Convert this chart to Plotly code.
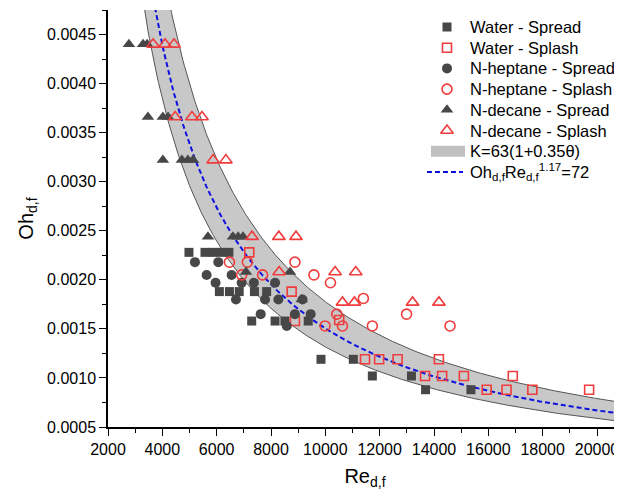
import numpy as np
import plotly.graph_objects as go

# ---------------- data ----------------
water_spread_re = [4980, 5570, 5860, 6160, 6450, 6100, 6470, 6830, 7390, 7840,
                   7290, 8150, 8510, 9370, 9840, 11030, 11730, 13170, 13690, 15360]
water_spread_oh = [0.00228, 0.00228, 0.00228, 0.00228, 0.00228,
                   0.00188, 0.00188, 0.00188, 0.00188, 0.00188,
                   0.00158, 0.00158, 0.00158, 0.00158,
                   0.00119, 0.00119, 0.00102, 0.00102, 0.00088, 0.00088]

water_splash_re = [7200, 8760, 8880, 10510, 11460, 11980, 12660, 14180,
                   13670, 14300, 15100, 16900, 15940, 16670, 17620, 19710]
water_splash_oh = [0.00228, 0.00188, 0.00158, 0.00159, 0.00119, 0.00119, 0.00119, 0.00119,
                   0.00102, 0.00102, 0.00102, 0.00102, 0.00088, 0.00088, 0.00088, 0.00088]

heptane_spread_re = [5200, 6060, 5630, 6550, 5960, 6920, 7370, 8150,
                     6710, 7780, 8270, 9160, 7620, 8880, 9460, 8580]
heptane_spread_oh = [0.00218, 0.00218, 0.00205, 0.00205, 0.00197, 0.00197, 0.00197, 0.00197,
                     0.00180, 0.00180, 0.00180, 0.00180, 0.00165, 0.00165, 0.00165, 0.00153]

heptane_splash_re = [6470, 7130, 8880, 6920, 7690, 9580, 10190, 11400,
                     10420, 12990, 9990, 10630, 11730, 14590]
heptane_splash_oh = [0.00218, 0.00218, 0.00218, 0.00205, 0.00205, 0.00205, 0.00197, 0.00181,
                     0.00165, 0.00165, 0.00153, 0.00153, 0.00153, 0.00153]

decane_spread_re = [2770, 3290, 3440, 3470, 4020, 4210, 4020, 4720, 4940, 5130,
                    5680, 6600, 6790, 6970, 7080, 8700, 9130]
decane_spread_oh = [0.00440, 0.00440, 0.00440, 0.00366, 0.00366, 0.00366,
                    0.00322, 0.00322, 0.00322, 0.00322,
                    0.00244, 0.00244, 0.00244, 0.00244, 0.00208, 0.00208, 0.00180]

decane_splash_re = [3660, 4100, 4430, 4470, 5090, 5460, 5870, 6340,
                    7300, 8290, 8920, 8300, 10360, 11120, 10630, 11070, 13210, 14180]
decane_splash_oh = [0.00440, 0.00440, 0.00440, 0.00366, 0.00366, 0.00366, 0.00322, 0.00322,
                    0.00244, 0.00244, 0.00244, 0.00208, 0.00208, 0.00208,
                    0.00177, 0.00177, 0.00177, 0.00177]

# correlation constants
K_low = 63.0
K_high = 63.0 * (1 + 0.35)
K_fit = 72.0
exponent = 1.17

x_ticks = [2000, 4000, 6000, 8000, 10000, 12000, 14000, 16000, 18000, 20000]
y_ticks = [0.0005, 0.0010, 0.0015, 0.0020, 0.0025, 0.0030, 0.0035, 0.0040, 0.0045]

legend_labels = ["Water - Spread", "Water - Splash", "N-heptane - Spread", "N-heptane - Splash",
                 "N-decane - Spread", "N-decane - Splash", "K=63(1+0.35θ)",
                 "Oh<sub>d,f</sub>Re<sub>d,f</sub><sup>1.17</sup>=72"]

# ---------------- styling ----------------
DARK = "#474747"
RED = "#f03c3c"
BAND_FILL = "#c8c8c8"
BLUE = "#1010e0"
DASH = "5px,3px"
FONT = "Liberation Sans, Arial, sans-serif"

# the page body has an 8px default margin, so the figure is drawn 8px in from the corner
OFF = 8
W, H = 622 - OFF, 496 - OFF
L, R, T, B = 108 - OFF, 0, 10 - OFF, 69

re_curve = np.linspace(2000, 21000, 400)
oh_low = K_low / re_curve ** exponent
oh_high = K_high / re_curve ** exponent
oh_fit = K_fit / re_curve ** exponent

fig = go.Figure()

fig.add_trace(go.Scatter(
    x=np.concatenate([re_curve, re_curve[::-1]]),
    y=np.concatenate([oh_high, oh_low[::-1]]),
    fill="toself", fillcolor=BAND_FILL, mode="lines",
    line=dict(color="#555555", width=1), hoverinfo="skip", showlegend=False))

fig.add_trace(go.Scatter(
    x=re_curve, y=oh_fit, mode="lines",
    line=dict(color=BLUE, width=2, dash=DASH), showlegend=False))

series = [
    (water_spread_re, water_spread_oh, "square", DARK, 9),
    (water_splash_re, water_splash_oh, "square-open", RED, 9),
    (heptane_spread_re, heptane_spread_oh, "circle", DARK, 10),
    (heptane_splash_re, heptane_splash_oh, "circle-open", RED, 10),
    (decane_spread_re, decane_spread_oh, "triangle-up", DARK, 11),
    (decane_splash_re, decane_splash_oh, "triangle-up-open", RED, 11),
]
for (xs, ys, sym, col, sz), name in zip(series, legend_labels):
    fig.add_trace(go.Scatter(
        x=xs, y=ys, mode="markers", name=name, showlegend=False,
        marker=dict(symbol=sym, color=col, size=sz,
                    line=dict(color=col, width=1.6 if "open" in sym else 0))))

# ---------------- hand-made legend on a screen-pixel overlay axis ----------------
row_y = [27 + 20.7 * i for i in range(len(legend_labels))]
sym_x = 447
text_x = 469
for i, (xs, ys, sym, col, sz) in enumerate(series):
    fig.add_trace(go.Scatter(
        x=[sym_x], y=[row_y[i]], xaxis="x2", yaxis="y2", mode="markers",
        showlegend=False, hoverinfo="skip",
        marker=dict(symbol=sym, color=col, size=sz,
                    line=dict(color=col, width=1.6 if "open" in sym else 0))))
fig.add_shape(type="rect", xref="x2", yref="y2", x0=431, x1=465,
              y0=row_y[6] - 5.5, y1=row_y[6] + 5.5, fillcolor="#c0c0c0", line=dict(width=0))
fig.add_trace(go.Scatter(
    x=[427, 463], y=[row_y[7], row_y[7]], xaxis="x2", yaxis="y2", mode="lines",
    showlegend=False, hoverinfo="skip", line=dict(color=BLUE, width=2, dash=DASH)))
for i, lab in enumerate(legend_labels):
    fig.add_annotation(x=text_x, y=row_y[i], xref="x2", yref="y2", text=lab,
                       xanchor="left", yanchor="middle", showarrow=False, borderpad=0,
                       font=dict(family=FONT, size=16.5, color="black"))

axis_common = dict(
    showline=True, linecolor="black", linewidth=1.5, mirror=False,
    ticks="outside", ticklen=7, tickwidth=1.3, tickcolor="black",
    showgrid=False, zeroline=False,
    tickfont=dict(family=FONT, size=16, color="black"),
)

xaxis = dict(
    range=[2000, 20920], tickmode="array", tickvals=x_ticks, ticktext=[str(v) for v in x_ticks],
    minor=dict(dtick=1000, tick0=2000, ticks="outside", ticklen=4, tickcolor="black", tickwidth=1.2),
    title=dict(text="Re<sub>d,f</sub>", font=dict(family=FONT, size=20, color="black"), standoff=12),
    **axis_common)
yaxis = dict(
    range=[0.0005, 0.00475], tickmode="array", tickvals=y_ticks,
    ticktext=[f"{v:.4f}" for v in y_ticks],
    minor=dict(dtick=0.00025, tick0=0.0005, ticks="outside", ticklen=4, tickcolor="black", tickwidth=1.2),
    title=dict(text="Oh<sub>d,f</sub>", font=dict(family=FONT, size=20, color="black"), standoff=8),
    **axis_common)

fig.update_layout(
    width=W, height=H,
    margin=dict(l=L, r=R, t=T, b=B, autoexpand=False),
    paper_bgcolor="white", plot_bgcolor="white",
    font=dict(family=FONT, size=16, color="black"),
    showlegend=False,
    xaxis=xaxis, yaxis=yaxis,
    xaxis2=dict(overlaying="x", range=[L + OFF, W - R + OFF], visible=False,
                fixedrange=True, anchor="y2"),
    yaxis2=dict(overlaying="y", range=[H - B + OFF, T + OFF], visible=False,
                fixedrange=True, anchor="x2"),
)

fig.write_html("out.html")
